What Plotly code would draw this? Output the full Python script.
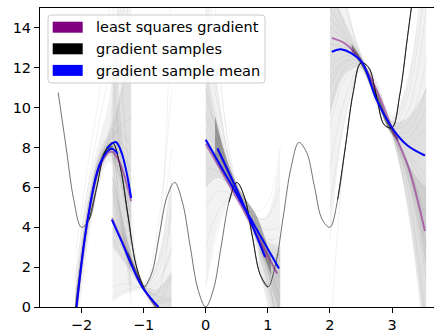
import plotly.graph_objects as go

# ---------------- data ----------------
func_x = [-2.375, -2.25, -2.125, -2.0, -1.875, -1.75, -1.625, -1.5, -1.375, -1.25, -1.125, -1.0,
          -0.875, -0.75, -0.625, -0.5, -0.375, -0.25, -0.125, 0.0, 0.125, 0.25, 0.375, 0.5,
          0.625, 0.75, 0.875, 1.0, 1.125, 1.25, 1.375, 1.5, 1.625, 1.75, 1.875, 2.0, 2.125,
          2.25, 2.375, 2.5, 2.625, 2.75, 2.875, 3.0, 3.125, 3.25, 3.375]
func_y = [10.76, 8.06, 5.39, 4.00, 4.39, 6.06, 7.76, 8.25, 7.01, 4.56, 2.14, 1.00,
          1.64, 3.56, 5.51, 6.25, 5.26, 3.06, 0.89, 0.00, 0.89, 3.06, 5.26, 6.25,
          5.51, 3.56, 1.64, 1.00, 2.14, 4.56, 7.01, 8.25, 7.76, 6.06, 4.39, 4.00, 5.39,
          8.06, 10.76, 12.25, 12.01, 10.56, 9.14, 9.00, 10.64, 13.56, 16.51]
dark_ranges = [(-1.9, -0.95), (0.3, 1.1), (2.1, 3.4)]

# gradient samples (faint fans), y values at the knots of each window
fanA_x = [-2.1, -1.9, -1.7, -1.55, -1.4, -1.2]
fanA_y = [
    [-0.3, 4.3, 7.1, 8.0, 7.8, 6.0], [-0.1, 4.5, 7.3, 8.1, 8.3, 7.5], [0.0, 4.6, 7.4, 8.2, 9.0, 9.5],
    [-0.5, 4.2, 7.0, 7.9, 7.2, 4.5], [0.2, 4.8, 7.5, 8.1, 7.0, 3.5], [-0.2, 4.4, 7.2, 8.3, 10.0, 13.0],
    [-0.4, 4.3, 7.3, 8.5, 11.5, 16.5], [0.1, 4.5, 7.2, 8.0, 6.5, 2.0], [-0.2, 4.4, 7.1, 7.8, 6.0, 1.0],
    [0.3, 4.9, 7.6, 8.4, 8.8, 8.0], [-0.6, 4.0, 7.0, 8.6, 12.5, 19.0], [0.0, 4.4, 7.3, 8.0, 8.0, 6.8],
    [-0.3, 4.4, 7.2, 9.0, 14.0, 22.0], [0.0, 4.6, 7.5, 8.2, 7.4, 5.0], [-0.8, 3.8, 6.9, 7.9, 6.8, 3.0],
    [0.4, 5.0, 7.6, 8.1, 7.6, 6.2], [1.5, 6.0, 9.5, 12.0, 18.0, 25.0], [2.5, 7.0, 11.0, 15.0, 22.0, 30.0],
]
fanB_x = [-1.5, -1.25, -1.0, -0.8, -0.55]
fanB_y = [
    [5.0, 2.75, 1.0, -0.04, -0.89], [5.5, 2.75, 1.0, 0.32, 0.37], [6.0, 2.75, 1.0, 0.68, 1.63],
    [6.5, 2.75, 1.0, 1.04, 2.89], [7.5, 2.88, 1.0, 1.48, 4.56], [4.5, 2.75, 1.0, -0.4, -2.15],
    [4.0, 2.75, 1.0, -0.76, -3.0], [8.5, 3.0, 1.0, 1.92, 6.22], [6.0, 2.25, 1.0, 1.8, 5.05],
    [6.5, 3.13, 1.0, 0.2, 0.33], [4.0, 2.38, 1.0, 0.08, -0.85], [4.5, 2.38, 1.0, 0.44, 0.4],
    [7.5, 2.38, 1.0, 2.6, 8.0], [3.5, 2.0, 1.0, 0.56, 0.46], [9.0, 2.5, 1.0, 3.4, 10.9],
    [19.5, 7.1, 1.0, 0.6, 5.7], [12.0, 4.5, 1.0, 0.2, 1.5], [4.5, 3.1, 1.0, -1.2, -4.0],
    [1.0, 1.2, 1.0, 2.5, 18.0], [0.5, 0.9, 1.0, 1.2, 3.0],
]
fanC_x = [0.0, 0.2, 0.45, 0.7, 0.95, 1.2]
fanC_y = [
    [8.4, 7.3, 5.9, 4.5, 3.1, 1.8], [9.0, 7.8, 6.0, 4.4, 2.8, 1.0], [10.5, 8.6, 6.1, 4.3, 2.3, 0.0],
    [12.0, 9.2, 6.2, 4.2, 2.5, 1.5], [15.0, 10.5, 6.3, 4.0, 1.8, -1.0], [7.0, 6.8, 5.8, 4.6, 3.6, 3.0],
    [5.0, 5.8, 5.6, 4.6, 3.9, 4.0], [3.0, 4.8, 5.6, 4.8, 4.4, 6.0], [1.0, 3.8, 5.5, 4.8, 5.0, 8.0],
    [8.0, 7.6, 6.0, 4.3, 2.2, -0.5], [9.5, 8.0, 6.0, 4.5, 3.4, 3.5], [11.0, 8.5, 6.1, 4.4, 2.0, -1.5],
    [8.6, 7.4, 5.9, 4.5, 3.0, 1.4], [13.5, 10.0, 6.5, 4.5, 2.6, 0.5], [6.0, 6.5, 5.9, 4.4, 2.7, 0.3],
    [18.0, 12.0, 6.8, 4.3, 2.4, 2.0], [25.0, 13.0, 6.6, 4.4, 2.9, 2.6], [9.8, 8.2, 6.0, 4.4, 2.6, -3.0],
]
fanD_x = [2.0, 2.25, 2.5, 2.75, 3.0, 3.25, 3.55]
fanD_y = [
    [12.8, 12.9, 12.3, 10.6, 8.9, 8.0, 7.6], [14.0, 13.4, 12.3, 10.6, 8.9, 7.2, 4.5],
    [11.0, 12.3, 12.2, 10.7, 8.9, 8.5, 10.0], [9.0, 11.5, 12.2, 10.8, 9.0, 9.2, 12.5],
    [16.0, 14.0, 12.4, 10.5, 8.8, 6.5, 1.5], [7.0, 10.5, 12.1, 10.8, 8.9, 9.8, 15.0],
    [13.2, 13.0, 12.3, 10.5, 8.8, 7.6, 6.0], [18.0, 15.0, 12.5, 10.4, 8.8, 6.0, -1.0],
    [10.0, 12.0, 12.2, 10.6, 8.9, 8.8, 11.0], [12.0, 12.6, 12.3, 10.6, 8.9, 7.8, 6.5],
    [15.0, 13.7, 12.3, 10.6, 9.0, 7.0, 3.0], [5.0, 9.5, 12.0, 10.9, 9.0, 10.5, 17.0],
    [14.5, 13.5, 12.3, 10.5, 8.8, 8.2, 9.0], [11.5, 12.4, 12.3, 10.7, 8.9, 7.3, 4.0],
    [-2.0, 8.0, 12.2, 10.9, 9.0, 5.0, -2.0], [20.0, 15.5, 12.6, 11.2, 9.3, 11.0, 20.0],
]

# shading envelopes of the sample fans: (x knots, upper, lower, opacity)
sample_bands = [
    # window A
    ([-2.1, -1.9, -1.7, -1.55, -1.4, -1.2], [1.5, 6.0, 8.6, 10.5, 16.0, 22.0], [-2.0, 3.0, 6.3, 7.3, 5.0, 0.0], 0.05),
    ([-2.1, -1.9, -1.7, -1.55, -1.4, -1.2], [0.8, 5.2, 7.9, 8.8, 10.5, 13.0], [-1.2, 3.6, 6.7, 7.6, 6.5, 3.0], 0.07),
    ([-2.1, -1.9, -1.7, -1.6, -1.5], [0.1, 4.55, 7.35, 7.95, 8.1], [-0.3, 4.25, 7.05, 7.75, 7.9], 0.45),
    # window B
    ([-1.5, -1.25, -1.0, -0.8, -0.55], [16.0, 5.5, 1.3, 2.2, 7.0], [0.3, 0.7, 0.8, -0.2, -1.5], 0.05),
    ([-1.5, -1.25, -1.0, -0.8, -0.55], [7.0, 3.3, 1.15, 0.9, 1.8], [3.0, 2.0, 0.9, -0.3, -2.0], 0.07),
    ([-1.25, -1.1, -1.0, -0.9, -0.8], [2.8, 1.75, 1.05, 0.5, 0.2], [2.4, 1.55, 0.95, 0.35, -0.1], 0.4),
    # window C
    ([0.0, 0.2, 0.45, 0.7, 0.95, 1.2], [18.0, 11.0, 6.6, 4.8, 4.5, 8.0], [1.0, 4.0, 5.5, 4.2, 1.5, -3.0], 0.05),
    ([0.0, 0.2, 0.45, 0.7, 0.95, 1.2], [12.0, 9.0, 6.3, 4.6, 3.4, 3.0], [6.0, 6.5, 5.7, 4.3, 2.2, -0.5], 0.07),
    ([0.15, 0.3, 0.45, 0.6, 0.8, 0.95, 1.05], [9.6, 7.8, 6.5, 5.6, 4.7, 3.5, 2.5], [7.4, 6.6, 5.9, 5.0, 3.9, 2.5, 1.6], 0.3),
    ([0.85, 1.0, 1.1, 1.2], [3.0, 2.4, 2.5, 3.0], [2.0, 0.0, -2.0, -4.0], 0.08),
    # window D
    ([2.0, 2.25, 2.5, 2.75, 3.0, 3.25, 3.55], [20.0, 15.5, 12.8, 11.4, 9.6, 11.5, 18.0], [3.0, 9.5, 11.8, 10.0, 8.4, 5.0, -3.0], 0.05),
    ([2.0, 2.25, 2.5, 2.75, 3.0, 3.25, 3.55], [16.0, 14.3, 12.6, 11.0, 9.3, 9.5, 11.0], [9.5, 11.7, 12.0, 10.2, 8.6, 6.5, 2.0], 0.07),
    ([2.35, 2.5, 2.65, 2.8, 2.95, 3.1], [13.2, 12.5, 11.5, 10.4, 9.3, 8.6], [12.8, 12.15, 11.1, 10.0, 8.9, 8.3], 0.4),
    ([3.0, 3.2, 3.4, 3.55], [8.8, 7.5, 6.5, 6.0], [8.6, 6.0, 2.0, -2.0], 0.08),
]

# least squares gradient (purple) pieces
lsq_pieces = [
    ([-2.08, -1.9, -1.7, -1.52, -1.4, -1.2], [0.0, 4.35, 7.1, 7.8, 7.35, 5.3]),
    ([-1.51, -1.34, -1.18, -1.02, -0.9, -0.74], [4.45, 3.25, 2.05, 1.0, 0.45, -0.1]),
    ([0.0, 0.6, 1.15], [8.19, 4.9, 1.68]),
    ([0.19, 0.6, 0.97], [7.9, 5.2, 2.45]),
    ([2.03, 2.25, 2.5, 2.75, 3.0, 3.26, 3.53], [13.5, 13.2, 12.35, 10.9, 8.95, 7.05, 3.81]),
]
# gradient sample mean (blue) pieces
mean_pieces = [
    ([-2.08, -1.9, -1.7, -1.52, -1.42], [0.0, 4.4, 7.2, 7.94, 7.7]),
    ([-1.59, -1.45, -1.35, -1.2], [7.96, 8.28, 7.7, 5.47]),
    ([-1.51, -1.34, -1.18, -1.02, -0.9, -0.76], [4.37, 3.19, 2.01, 0.99, 0.5, 0.0]),
    ([0.0, 0.6, 1.18], [8.39, 5.1, 1.93]),
    ([0.19, 0.6, 0.955], [7.96, 5.2, 2.51]),
    ([2.03, 2.18, 2.5, 2.75, 3.02, 3.25, 3.53], [12.8, 12.93, 12.34, 10.4, 8.9, 8.1, 7.6]),
]

legend_labels = ["least squares gradient", "gradient samples", "gradient sample mean"]
legend_colors = ["#800080", "#000000", "#0000ff"]

x_ticks = [-2, -1, 0, 1, 2, 3]
y_ticks = [0, 2, 4, 6, 8, 10, 12, 14]

# ---------------- figure ----------------
W, H = 434, 333
ML, MR, MT, MB = 40, 0, 8, 26
fig = go.Figure()


def add_line(x, y, color, width, smooth=1.0, fill=None, fillcolor=None):
    fig.add_trace(go.Scatter(x=x, y=y, mode="lines",
                             line=dict(color=color, width=width, shape="spline", smoothing=smooth),
                             fill=fill, fillcolor=fillcolor,
                             showlegend=False, hoverinfo="skip"))


for bx, up, lo, op in sample_bands:
    add_line(bx, lo, "rgba(0,0,0,0)", 0)
    add_line(bx, up, "rgba(0,0,0,0)", 0, fill="tonexty", fillcolor=f"rgba(0,0,0,{op})")

for fx, fys in [(fanA_x, fanA_y), (fanB_x, fanB_y), (fanC_x, fanC_y), (fanD_x, fanD_y)]:
    for ys in fys:
        add_line(fx, ys, "rgba(0,0,0,0.05)", 1)

add_line(func_x, func_y, "rgba(0,0,0,0.55)", 1, 1.0)
for lo, hi in dark_ranges:
    xs = [x for x in func_x if lo <= x <= hi]
    ys = [y for x, y in zip(func_x, func_y) if lo <= x <= hi]
    add_line(xs, ys, "rgba(0,0,0,0.75)", 1, 1.0)

for xs, ys in lsq_pieces:
    add_line(xs, ys, "rgba(128,0,128,0.5)", 2)
for xs, ys in mean_pieces:
    add_line(xs, ys, "#0000ff", 2)

pw, ph = W - ML - MR, H - MT - MB


def px(X):
    return (X - ML) / pw


def py(Y):
    return (H - MB - Y) / ph


# legend box (rounded)
x0, x1, y0, y1, r = 48, 265, 15, 83, 3
path = (f"M{px(x0 + r)},{py(y0)} L{px(x1 - r)},{py(y0)} Q{px(x1)},{py(y0)} {px(x1)},{py(y0 + r)} "
        f"L{px(x1)},{py(y1 - r)} Q{px(x1)},{py(y1)} {px(x1 - r)},{py(y1)} "
        f"L{px(x0 + r)},{py(y1)} Q{px(x0)},{py(y1)} {px(x0)},{py(y1 - r)} "
        f"L{px(x0)},{py(y0 + r)} Q{px(x0)},{py(y0)} {px(x0 + r)},{py(y0)} Z")
shapes = [dict(type="path", xref="paper", yref="paper", path=path,
               fillcolor="rgba(255,255,255,0.8)", line=dict(color="#cccccc", width=1), layer="above")]
annotations = []
for i, (lab, col) in enumerate(zip(legend_labels, legend_colors)):
    top = 21.7 + i * 21.6
    shapes.append(dict(type="rect", xref="paper", yref="paper",
                       x0=px(52.7), x1=px(82.7), y0=py(top + 11), y1=py(top),
                       fillcolor=col, line=dict(width=0), layer="above"))
    annotations.append(dict(xref="paper", yref="paper", x=px(94), y=py(top + 5.8),
                            xanchor="left", yanchor="middle", text=lab, showarrow=False,
                            font=dict(family="DejaVu Sans", size=14.5, color="black")))

fig.update_layout(
    width=W, height=H, margin=dict(l=ML, r=MR, t=MT, b=MB),
    paper_bgcolor="white", plot_bgcolor="white",
    font=dict(family="DejaVu Sans", size=14.5, color="black"),
    shapes=shapes, annotations=annotations, showlegend=False,
    xaxis=dict(range=[-2.668, 3.676], tickvals=x_ticks, showgrid=False, zeroline=False,
               showline=True, linecolor="black", linewidth=1, mirror=True,
               ticks="outside", ticklen=5, tickcolor="black"),
    yaxis=dict(range=[0, 15], tickvals=y_ticks, showgrid=False, zeroline=False,
               showline=True, linecolor="black", linewidth=1,
               ticks="outside", ticklen=5, tickcolor="black"),
)

fig.write_html("out.html")
